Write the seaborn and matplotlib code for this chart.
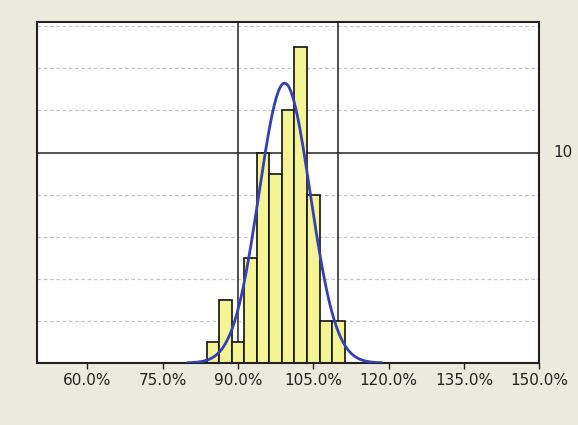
import numpy as np
import pandas as pd
import seaborn as sns
import matplotlib.pyplot as plt

# histogram (bin width 2.5 %)
bin_edges = [83.75, 86.25, 88.75, 91.25, 93.75, 96.25, 98.75, 101.25, 103.75, 106.25, 108.75, 111.25]
bin_mids = [85.0, 87.5, 90.0, 92.5, 95.0, 97.5, 100.0, 102.5, 105.0, 107.5, 110.0]
counts = [1, 3, 1, 5, 10, 9, 12, 15, 8, 2, 2]

# fitted normal curve (read from peak position / height)
fit_mean = 99.3
fit_sd = 5.1

spec_limits = [90, 110]
ref_count = 10
xticks = [60, 75, 90, 105, 120, 135, 150]
xtick_labels = ["60.0%", "75.0%", "90.0%", "105.0%", "120.0%", "135.0%", "150.0%"]

df = pd.DataFrame({"value": bin_mids, "n": counts})

sns.set_style("white")
plt.rcParams['font.family'] = ['DejaVu Sans']

fig = plt.figure(figsize=(5.78, 4.25), dpi=100, facecolor="#ECEADC")
ax = fig.add_axes([0.064, 0.146, 0.869, 0.802])
ax.set_facecolor("white")

# dashed grid every 2 counts
for y in range(2, 17, 2):
    if y != ref_count:
        ax.axhline(y, color="#C8C8C8", lw=0.9, ls=(0, (3, 2)), zorder=0)

ax.axhline(ref_count, color="#222222", lw=1.1, zorder=0.5)
for s in spec_limits:
    ax.axvline(s, color="#222222", lw=1.1, zorder=0.5)

sns.histplot(data=df, x="value", weights="n", bins=bin_edges, ax=ax,
             color="#F4F494", alpha=1, edgecolor="#111111", linewidth=1.2, zorder=2)

# normal curve scaled to counts
xs = np.linspace(fit_mean - 3.8 * fit_sd, fit_mean + 3.8 * fit_sd, 200)
bw = bin_edges[1] - bin_edges[0]
ys = sum(counts) * bw / (fit_sd * np.sqrt(2 * np.pi)) * np.exp(-0.5 * ((xs - fit_mean) / fit_sd) ** 2)
sns.lineplot(x=xs, y=ys, ax=ax, color="#3340B8", lw=2, zorder=3)

ax.set_xlim(50, 150)
ax.set_ylim(0, 16.2)
ax.set_xticks(xticks)
ax.set_xticklabels(xtick_labels, fontsize=11, color="#222222")
ax.set_yticks([])
ax.set_xlabel("")
ax.set_ylabel("")
ax.tick_params(axis="x", direction="out", length=4, width=1, color="#222222", pad=3, bottom=True)

for sp in ax.spines.values():
    sp.set_visible(True)
    sp.set_color("#222222")
    sp.set_linewidth(1.5)

ax.text(1.028, ref_count, str(ref_count), transform=ax.get_yaxis_transform(),
        ha="left", va="center", fontsize=11, color="#222222")

fig.savefig("out.png", dpi=100, facecolor=fig.get_facecolor())
